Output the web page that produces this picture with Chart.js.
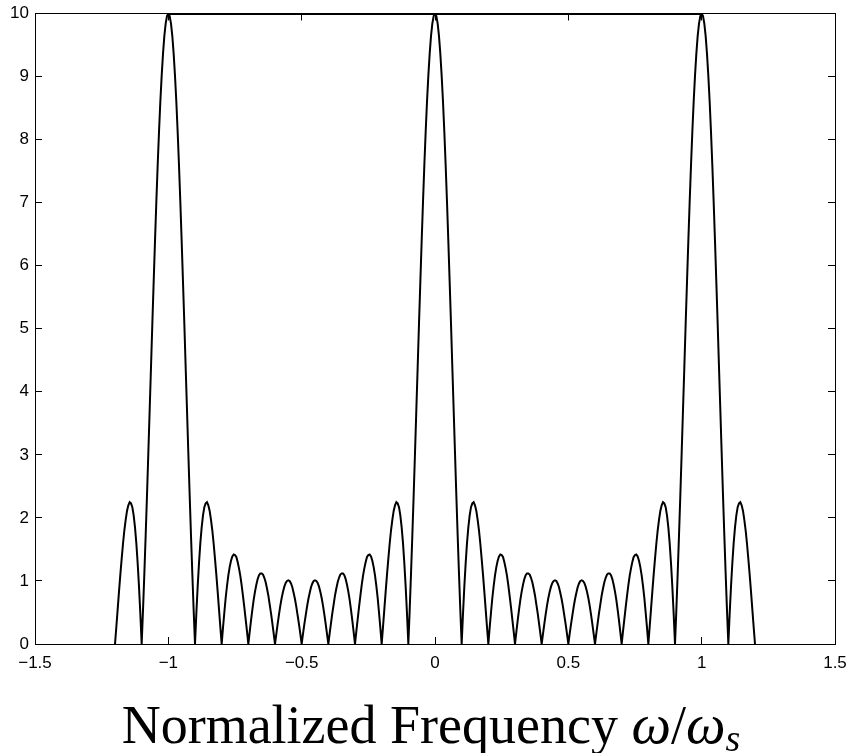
<!DOCTYPE html>
<html lang="en">
<head>
    <meta charset="UTF-8">
    <title>Normalized Frequency</title>
    <script src="https://cdn.jsdelivr.net/npm/chart.js"></script>
    <style>
        html, body {
            margin: 0;
            padding: 0;
            background-color: #ffffff;
        }

        canvas {
            display: block;
        }
    </style>
</head>
<body>
    <canvas id="freqChart" width="850" height="753"></canvas>

    <script>
        // samples of the magnitude curve, one every 0.005 from -1.2 to 1.2
        const freqStart = -1.2;
        const freqStep = 0.005;
        const magnitude = [
            0, 0.27, 0.55, 0.83, 1.10, 1.35, 1.59, 1.80, 1.97, 2.11, 2.20, 2.25, 2.23, 2.17, 2.04, 1.85, 1.60, 1.28, 0.91, 0.48,   // -1.2
            0, 0.53, 1.11, 1.72, 2.36, 3.03, 3.71, 4.39, 5.08, 5.74, 6.39, 7.01, 7.59, 8.12, 8.60, 9.01, 9.36, 9.64, 9.84, 9.96,   // -1.1
            10, 9.96, 9.84, 9.64, 9.36, 9.01, 8.60, 8.12, 7.59, 7.01, 6.39, 5.74, 5.08, 4.39, 3.71, 3.03, 2.36, 1.72, 1.11, 0.53,  // -1.0
            0, 0.48, 0.91, 1.28, 1.60, 1.85, 2.04, 2.17, 2.23, 2.25, 2.20, 2.11, 1.97, 1.80, 1.59, 1.35, 1.10, 0.83, 0.55, 0.27,   // -0.9
            0, 0.26, 0.50, 0.73, 0.92, 1.09, 1.22, 1.32, 1.39, 1.42, 1.41, 1.38, 1.30, 1.20, 1.08, 0.93, 0.76, 0.58, 0.39, 0.20,   // -0.8
            0, 0.19, 0.37, 0.54, 0.70, 0.83, 0.94, 1.03, 1.09, 1.12, 1.12, 1.10, 1.05, 0.98, 0.88, 0.77, 0.63, 0.49, 0.33, 0.17,   // -0.7
            0, 0.16, 0.32, 0.47, 0.61, 0.73, 0.83, 0.91, 0.97, 1.00, 1.01, 1.00, 0.96, 0.90, 0.81, 0.71, 0.59, 0.45, 0.31, 0.16,   // -0.6
            0, 0.16, 0.31, 0.45, 0.59, 0.71, 0.81, 0.90, 0.96, 1.00, 1.01, 1.00, 0.97, 0.91, 0.83, 0.73, 0.61, 0.47, 0.32, 0.16,   // -0.5
            0, 0.17, 0.33, 0.49, 0.63, 0.77, 0.88, 0.98, 1.05, 1.10, 1.12, 1.12, 1.09, 1.03, 0.94, 0.83, 0.70, 0.54, 0.37, 0.19,   // -0.4
            0, 0.20, 0.39, 0.58, 0.76, 0.93, 1.08, 1.20, 1.30, 1.38, 1.41, 1.42, 1.39, 1.32, 1.22, 1.09, 0.92, 0.73, 0.50, 0.26,   // -0.3
            0, 0.27, 0.55, 0.83, 1.10, 1.35, 1.59, 1.80, 1.97, 2.11, 2.20, 2.25, 2.23, 2.17, 2.04, 1.85, 1.60, 1.28, 0.91, 0.48,   // -0.2
            0, 0.53, 1.11, 1.72, 2.36, 3.03, 3.71, 4.39, 5.08, 5.74, 6.39, 7.01, 7.59, 8.12, 8.60, 9.01, 9.36, 9.64, 9.84, 9.96,   // -0.1
            10, 9.96, 9.84, 9.64, 9.36, 9.01, 8.60, 8.12, 7.59, 7.01, 6.39, 5.74, 5.08, 4.39, 3.71, 3.03, 2.36, 1.72, 1.11, 0.53,  // 0.0
            0, 0.48, 0.91, 1.28, 1.60, 1.85, 2.04, 2.17, 2.23, 2.25, 2.20, 2.11, 1.97, 1.80, 1.59, 1.35, 1.10, 0.83, 0.55, 0.27,   // 0.1
            0, 0.26, 0.50, 0.73, 0.92, 1.09, 1.22, 1.32, 1.39, 1.42, 1.41, 1.38, 1.30, 1.20, 1.08, 0.93, 0.76, 0.58, 0.39, 0.20,   // 0.2
            0, 0.19, 0.37, 0.54, 0.70, 0.83, 0.94, 1.03, 1.09, 1.12, 1.12, 1.10, 1.05, 0.98, 0.88, 0.77, 0.63, 0.49, 0.33, 0.17,   // 0.3
            0, 0.16, 0.32, 0.47, 0.61, 0.73, 0.83, 0.91, 0.97, 1.00, 1.01, 1.00, 0.96, 0.90, 0.81, 0.71, 0.59, 0.45, 0.31, 0.16,   // 0.4
            0, 0.16, 0.31, 0.45, 0.59, 0.71, 0.81, 0.90, 0.96, 1.00, 1.01, 1.00, 0.97, 0.91, 0.83, 0.73, 0.61, 0.47, 0.32, 0.16,   // 0.5
            0, 0.17, 0.33, 0.49, 0.63, 0.77, 0.88, 0.98, 1.05, 1.10, 1.12, 1.12, 1.09, 1.03, 0.94, 0.83, 0.70, 0.54, 0.37, 0.19,   // 0.6
            0, 0.20, 0.39, 0.58, 0.76, 0.93, 1.08, 1.20, 1.30, 1.38, 1.41, 1.42, 1.39, 1.32, 1.22, 1.09, 0.92, 0.73, 0.50, 0.26,   // 0.7
            0, 0.27, 0.55, 0.83, 1.10, 1.35, 1.59, 1.80, 1.97, 2.11, 2.20, 2.25, 2.23, 2.17, 2.04, 1.85, 1.60, 1.28, 0.91, 0.48,   // 0.8
            0, 0.53, 1.11, 1.72, 2.36, 3.03, 3.71, 4.39, 5.08, 5.74, 6.39, 7.01, 7.59, 8.12, 8.60, 9.01, 9.36, 9.64, 9.84, 9.96,   // 0.9
            10, 9.96, 9.84, 9.64, 9.36, 9.01, 8.60, 8.12, 7.59, 7.01, 6.39, 5.74, 5.08, 4.39, 3.71, 3.03, 2.36, 1.72, 1.11, 0.53,  // 1.0
            0, 0.48, 0.91, 1.28, 1.60, 1.85, 2.04, 2.17, 2.23, 2.25, 2.20, 2.11, 1.97, 1.80, 1.59, 1.35, 1.10, 0.83, 0.55, 0.27,   // 1.1
            0                                                                                                                       // 1.2
        ];

        // flat line joining the three main peaks
        const capFreq = [-1, 1];
        const capLevel = [10, 10];

        const xTicks = [-1.5, -1, -0.5, 0, 0.5, 1, 1.5];
        const yTicks = [0, 1, 2, 3, 4, 5, 6, 7, 8, 9, 10];

        const curvePoints = magnitude.map((m, i) => ({ x: +(freqStart + i * freqStep).toFixed(3), y: m }));
        const capPoints = capFreq.map((f, i) => ({ x: f, y: capLevel[i] }));

        const tickFont = { family: '"Liberation Sans", Arial, sans-serif', size: 17 };
        const titleFace = '"Liberation Serif", "Times New Roman", serif';

        function minusSign(v) {
            return String(v).replace('-', '\u2212');
        }

        // box-style axes: ticks point inward on all four sides
        function boxGrid() {
            return { drawOnChartArea: false, drawTicks: true, tickLength: -7, color: '#000', tickWidth: 1 };
        }

        // fixed axis sizes so the plot box lands where the original has it
        function fixSize(size) {
            return s => {
                if (s.isHorizontal()) {
                    s.height = size;
                } else {
                    s.width = size;
                }
                s.paddingLeft = 0;
                s.paddingRight = 0;
                s.paddingTop = 0;
                s.paddingBottom = 0;
            };
        }

        // x label with math italic omega and subscript s
        const axisTitle = {
            id: 'axisTitle',
            afterDraw(chart) {
                const ctx = chart.ctx;
                const area = chart.chartArea;
                const parts = [
                    { text: 'Normalized Frequency ', font: '54px ' + titleFace, dy: 0 },
                    { text: '\u03c9', font: 'italic 56px ' + titleFace, dy: 0 },
                    { text: '/', font: '54px ' + titleFace, dy: 0 },
                    { text: '\u03c9', font: 'italic 56px ' + titleFace, dy: 0 },
                    { text: 's', font: 'italic 38px ' + titleFace, dy: 8 }
                ];
                ctx.save();
                let total = 0;
                parts.forEach(p => {
                    ctx.font = p.font;
                    p.w = ctx.measureText(p.text).width;
                    total += p.w;
                });
                // the original sits a few px left of the plot centre
                let x = (area.left + area.right) / 2 - 4 - total / 2;
                const baseline = 743;
                ctx.fillStyle = '#000';
                ctx.textBaseline = 'alphabetic';
                ctx.textAlign = 'left';
                parts.forEach(p => {
                    ctx.font = p.font;
                    ctx.fillText(p.text, x, baseline + p.dy);
                    x += p.w;
                });
                ctx.restore();
            }
        };

        const ctx = document.getElementById('freqChart').getContext('2d');

        new Chart(ctx, {
            type: 'line',
            data: {
                datasets: [
                    {
                        data: curvePoints,
                        borderColor: '#000',
                        borderWidth: 2,
                        pointRadius: 0,
                        tension: 0,
                        fill: false
                    },
                    {
                        data: capPoints,
                        borderColor: '#000',
                        borderWidth: 3,
                        pointRadius: 0,
                        fill: false
                    }
                ]
            },
            options: {
                responsive: false,
                animation: false,
                devicePixelRatio: 1,
                parsing: false,
                layout: { padding: 0 },
                plugins: {
                    legend: { display: false },
                    tooltip: { enabled: false },
                    title: { display: false }
                },
                scales: {
                    x: {
                        type: 'linear',
                        position: 'bottom',
                        min: -1.5,
                        max: 1.5,
                        afterBuildTicks: s => { s.ticks = xTicks.map(v => ({ value: v })); },
                        afterFit: fixSize(109),
                        grid: boxGrid(),
                        border: { color: '#000', width: 1 },
                        ticks: {
                            color: '#000',
                            font: tickFont,
                            padding: 16,
                            maxRotation: 0,
                            autoSkip: false,
                            callback: v => minusSign(v)
                        }
                    },
                    xTop: {
                        type: 'linear',
                        position: 'top',
                        min: -1.5,
                        max: 1.5,
                        afterBuildTicks: s => { s.ticks = xTicks.map(v => ({ value: v })); },
                        afterFit: fixSize(13.5),
                        grid: boxGrid(),
                        border: { color: '#000', width: 1 },
                        ticks: { display: false }
                    },
                    y: {
                        type: 'linear',
                        position: 'left',
                        min: 0,
                        max: 10,
                        afterBuildTicks: s => { s.ticks = yTicks.map(v => ({ value: v })); },
                        afterFit: fixSize(35),
                        grid: boxGrid(),
                        border: { color: '#000', width: 1 },
                        ticks: {
                            color: '#000',
                            font: tickFont,
                            padding: 13,
                            autoSkip: false,
                            callback: v => minusSign(v)
                        }
                    },
                    yRight: {
                        type: 'linear',
                        position: 'right',
                        min: 0,
                        max: 10,
                        afterBuildTicks: s => { s.ticks = yTicks.map(v => ({ value: v })); },
                        afterFit: fixSize(15),
                        grid: boxGrid(),
                        border: { color: '#000', width: 1 },
                        ticks: { display: false }
                    }
                }
            },
            plugins: [axisTitle]
        });
    </script>
</body>
</html>
